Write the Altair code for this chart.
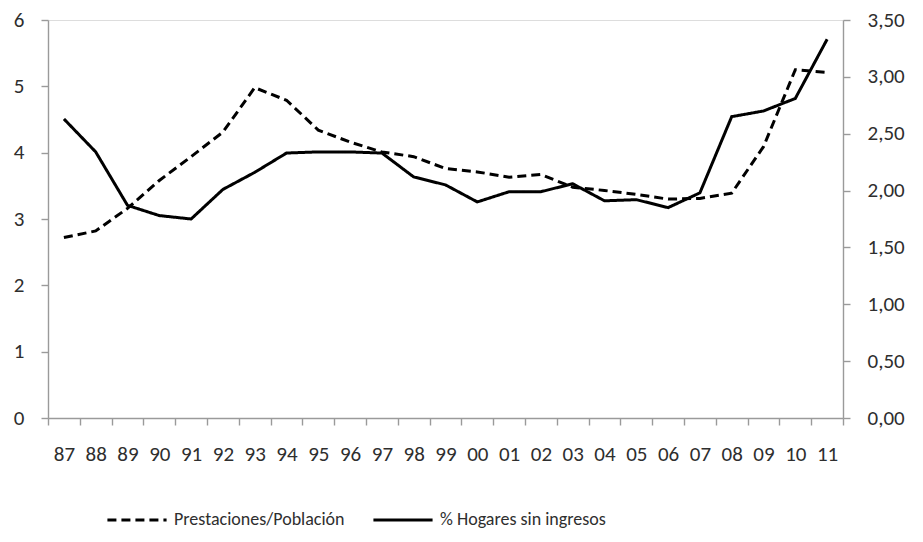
import altair as alt
import pandas as pd

# Years (two-digit labels) on the category axis
years = ["87", "88", "89", "90", "91", "92", "93", "94", "95", "96", "97", "98",
         "99", "00", "01", "02", "03", "04", "05", "06", "07", "08", "09", "10", "11"]

# Benefits per population (left axis)
prestaciones = [2.72, 2.82, 3.16, 3.58, 3.94, 4.31, 4.98, 4.79, 4.34, 4.16, 4.01, 3.94,
                3.76, 3.71, 3.63, 3.67, 3.48, 3.43, 3.37, 3.30, 3.31, 3.39, 4.09, 5.25, 5.21]

# Share of households without income, % (right axis)
hogares = [2.63, 2.34, 1.87, 1.78, 1.75, 2.01, 2.16, 2.33, 2.34, 2.34, 2.33, 2.12,
           2.05, 1.90, 1.99, 1.99, 2.06, 1.91, 1.92, 1.85, 1.98, 2.65, 2.70, 2.81, 3.33]

S1 = "Prestaciones/Población"
S2 = "% Hogares sin ingresos"

df = pd.DataFrame(
    {"year": years * 2,
     "serie": [S1] * len(years) + [S2] * len(years),
     "valor": prestaciones + hogares}
)

TEXT = "#2e2e2e"
AXIS = "#9a9a9a"
TICK_FONT = "Carlito, Liberation Sans, sans-serif"
LEGEND_FONT = "Carlito, Liberation Sans Narrow, Liberation Sans, sans-serif"

x_enc = alt.X(
    "year:O",
    sort=years,
    scale=alt.Scale(type="band", paddingInner=0, paddingOuter=0),
    axis=alt.Axis(title=None, labelAngle=0, tickBand="extent", tickSize=7,
                  labelPadding=18, labelFontSize=21, labelFont=TICK_FONT,
                  labelColor=TEXT, domainColor=AXIS, tickColor=AXIS,
                  domainWidth=1.4, tickWidth=1.4, grid=False),
)

dash = alt.StrokeDash(
    "serie:N",
    scale=alt.Scale(domain=[S1, S2], range=[[9, 5], [1, 0]]),
    legend=alt.Legend(
        title=None, orient="none", direction="horizontal",
        legendX=58, legendY=469, padding=0,
        symbolType="stroke", symbolSize=3500, symbolStrokeWidth=2.8,
        symbolStrokeColor="black", labelFontSize=18, labelFont=LEGEND_FONT,
        labelColor=TEXT, labelOffset=6, columnPadding=22, labelLimit=400,
    ),
)

left = (
    alt.Chart(df)
    .transform_filter(alt.datum.serie == S1)
    .mark_line(color="black", strokeWidth=3)
    .encode(
        x=x_enc,
        y=alt.Y("valor:Q", scale=alt.Scale(domain=[0, 6], nice=False, zero=True),
                axis=alt.Axis(title=None, orient="left", values=[0, 1, 2, 3, 4, 5, 6],
                              tickSize=7, labelPadding=17, labelFontSize=21,
                              labelFont=TICK_FONT, labelColor=TEXT,
                              domainColor=AXIS, tickColor=AXIS, domainWidth=1.4,
                              tickWidth=1.4, grid=False)),
        strokeDash=dash,
    )
)

right = (
    alt.Chart(df)
    .transform_filter(alt.datum.serie == S2)
    .mark_line(color="black", strokeWidth=3)
    .encode(
        x=x_enc,
        y=alt.Y("valor:Q", scale=alt.Scale(domain=[0, 3.5], nice=False, zero=True),
                axis=alt.Axis(title=None, orient="right",
                              values=[0, 0.5, 1, 1.5, 2, 2.5, 3, 3.5],
                              labelExpr="replace(format(datum.value, '.2f'), '.', ',')",
                              tickSize=7, labelPadding=17, labelFontSize=21,
                              labelFont=TICK_FONT, labelColor=TEXT,
                              domainColor=AXIS, tickColor=AXIS, domainWidth=1.4,
                              tickWidth=1.4, grid=False)),
        strokeDash=dash,
    )
)

chart = (
    alt.layer(left, right)
    .resolve_scale(y="independent")
    .properties(
        width=795, height=398,
        autosize=alt.AutoSizeParams(type="none"),
        padding={"left": 48, "top": 20, "right": 80, "bottom": 124},
    )
    .configure_view(stroke=None)
    .configure(background="white")
)

chart.save("out.html", embed_options={"renderer": "svg", "actions": False})
